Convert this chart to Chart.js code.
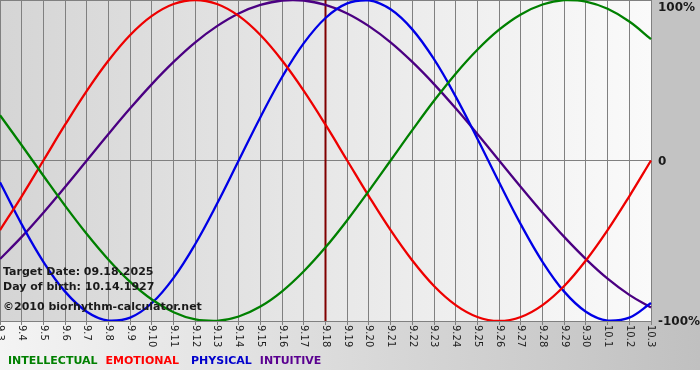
<!DOCTYPE html>
<html>
<head>
<meta charset="utf-8">
<script src="https://cdn.jsdelivr.net/npm/chart.js@4"></script>
<style>
  html, body { margin: 0; padding: 0; background: #fff; }
  canvas { display: block; }
</style>
</head>
<body>
<canvas id="myChart" width="700" height="380"></canvas>
<script>
  let days = ["9.3", "9.4", "9.5", "9.6", "9.7", "9.8", "9.9", "9.10", "9.11", "9.12",
    "9.13", "9.14", "9.15", "9.16", "9.17", "9.18", "9.19", "9.20", "9.21", "9.22",
    "9.23", "9.24", "9.25", "9.26", "9.27", "9.28", "9.29", "9.30", "10.1", "10.2", "10.3"];

  let intellectual = [28.2, 9.5, -9.5, -28.2, -45.8, -61.8, -75.6, -86.6, -94.5, -99.0,
    -99.9, -97.2, -91.0, -81.5, -69.0, -54.1, -37.2, -18.9, 0, 18.9,
    37.2, 54.1, 69.0, 81.5, 91.0, 97.2, 99.9, 99.0, 94.5, 86.6, 75.6];
  let emotional = [-43.4, -22.3, 0, 22.3, 43.4, 62.3, 78.2, 90.1, 97.5, 100,
    97.5, 90.1, 78.2, 62.3, 43.4, 22.3, 0, -22.3, -43.4, -62.3,
    -78.2, -90.1, -97.5, -100, -97.5, -90.1, -78.2, -62.3, -43.4, -22.3, 0];
  let physical = [-13.6, -39.8, -63.1, -81.7, -94.2, -99.8, -97.9, -88.8, -73.1, -52.0,
    -27.0, 0, 27.0, 52.0, 73.1, 88.8, 97.9, 99.8, 94.2, 81.7,
    63.1, 39.8, 13.6, -13.6, -39.8, -63.1, -81.7, -94.2, -99.8, -97.9, -88.8];
  let intuitive = [-61.4, -47.6, -32.5, -16.5, 0, 16.5, 32.5, 47.6, 61.4, 73.6,
    83.7, 91.6, 96.9, 99.7, 99.7, 96.9, 91.6, 83.7, 73.6, 61.4,
    47.6, 32.5, 16.5, 0, -16.5, -32.5, -47.6, -61.4, -73.6, -83.7, -91.6];

  let yTicks = [100, 0, -100];
  let yTickLabels = ["100%", "0", "-100%"];
  let targetDay = "9.18";
  let infoLines = ["Target Date: 09.18.2025", "Day of birth: 10.14.1927", "\u00a92010 biorhythm-calculator.net"];

  let seriesNames = ["INTELLECTUAL", "EMOTIONAL", "PHYSICAL", "INTUITIVE"];
  let seriesColors = ["#008000", "#ee0000", "#0000e6", "#4b0082"];
  let legendColors = ["#008000", "#ff0000", "#0000cc", "#5a0090"];
  let legendGaps = [8, 12, 8, 0];

  // background, target line and all the text around the plot
  let decoPlugin = {
    id: "deco",
    beforeDraw(chart) {
      let ctx = chart.ctx;
      let a = chart.chartArea;
      ctx.save();
      ctx.fillStyle = "#ffffff";
      ctx.fillRect(0, 0, chart.width, chart.height);
      // right strip
      ctx.fillStyle = "#c3c3c3";
      ctx.fillRect(a.right, 0, chart.width - a.right, a.bottom);
      // bottom strip
      let g = ctx.createLinearGradient(0, 0, chart.width, 0);
      g.addColorStop(0, "#f4f4f4");
      g.addColorStop(1, "#c0c0c0");
      ctx.fillStyle = g;
      ctx.fillRect(0, a.bottom, chart.width, 370 - a.bottom);
      // plot area
      let g2 = ctx.createLinearGradient(a.left, 0, a.right, 0);
      g2.addColorStop(0, "#d5d5d5");
      g2.addColorStop(1, "#fafafa");
      ctx.fillStyle = g2;
      ctx.fillRect(a.left, a.top, a.right - a.left, a.bottom - a.top);
      ctx.restore();
    },
    beforeDatasetsDraw(chart) {
      let ctx = chart.ctx;
      let a = chart.chartArea;
      let x = chart.scales.x.getPixelForValue(days.indexOf(targetDay));
      ctx.save();
      ctx.strokeStyle = "#800000";
      ctx.lineWidth = 2;
      ctx.beginPath();
      ctx.moveTo(x, a.top);
      ctx.lineTo(x, a.bottom);
      ctx.stroke();
      ctx.restore();
    },
    afterDraw(chart) {
      let ctx = chart.ctx;
      let a = chart.chartArea;
      let xs = chart.scales.x;
      let ys = chart.scales.y;
      ctx.save();

      // rotated day labels
      ctx.fillStyle = "#1e1e1e";
      ctx.font = "10px 'DejaVu Sans'";
      ctx.textAlign = "left";
      ctx.textBaseline = "middle";
      for (let i = 0; i < days.length; i++) {
        let x = xs.getPixelForValue(i);
        ctx.save();
        ctx.translate(x, a.bottom + 4);
        ctx.rotate(Math.PI / 2);
        ctx.fillText(days[i], 0, 0);
        ctx.restore();
      }

      // percent labels on the right
      ctx.font = "bold 12px 'DejaVu Sans'";
      ctx.fillStyle = "#1a1a1a";
      for (let i = 0; i < yTicks.length; i++) {
        let y = ys.getPixelForValue(yTicks[i]);
        y = Math.max(y + 1, a.top + 8);
        ctx.fillText(yTickLabels[i], a.right + 7, y);
      }

      // info text
      ctx.font = "bold 11px 'DejaVu Sans'";
      ctx.fillStyle = "#1a1a1a";
      ctx.fillText(infoLines[0], 3, 272);
      ctx.fillText(infoLines[1], 3, 287);
      ctx.fillText(infoLines[2], 3, 307);

      // legend
      let lx = 8;
      for (let i = 0; i < seriesNames.length; i++) {
        ctx.fillStyle = legendColors[i];
        ctx.fillText(seriesNames[i], lx, 361);
        lx += ctx.measureText(seriesNames[i]).width + legendGaps[i];
      }
      ctx.restore();
    }
  };

  let seriesData = [intellectual, emotional, physical, intuitive];
  let datasets = [];
  for (let i = 0; i < seriesNames.length; i++) {
    datasets.push({
      label: seriesNames[i],
      data: seriesData[i],
      borderColor: seriesColors[i],
      borderWidth: 2.3,
      pointRadius: 0,
      tension: 0.4,
      fill: false,
    });
  }

  let ctx = document.getElementById("myChart").getContext("2d");
  let chart = new Chart(ctx, {
    type: "line",
    data: {
      labels: days,
      datasets: datasets,
    },
    options: {
      responsive: false,
      animation: false,
      devicePixelRatio: 1,
      layout: {
        padding: { left: 0, right: 49, top: 0, bottom: 55 },
      },
      plugins: {
        legend: { display: false },
        tooltip: { enabled: false },
      },
      scales: {
        x: {
          offset: false,
          grid: { color: "#808080", lineWidth: 1, drawTicks: true, tickLength: 4 },
          border: { color: "#808080" },
          ticks: { display: false, autoSkip: false },
        },
        y: {
          position: "right",
          min: -100,
          max: 100,
          grid: { color: "#808080", lineWidth: 1, drawTicks: false },
          border: { color: "#808080" },
          ticks: { display: false, stepSize: 100 },
        },
      },
    },
    plugins: [decoPlugin],
  });
</script>
</body>
</html>
